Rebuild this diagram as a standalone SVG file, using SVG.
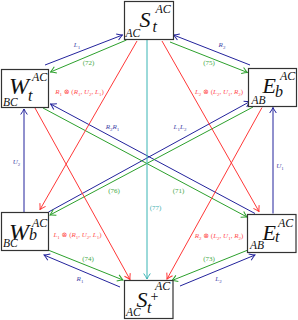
<svg xmlns="http://www.w3.org/2000/svg" width="298" height="320" viewBox="0 0 298 320">
<style>
.box{fill:#fff;stroke:#333;stroke-width:1.2}
.m{font-family:"Liberation Serif",serif;font-style:italic;fill:#111}
.big{font-size:22px}
.sup{font-size:12px}
.pre{font-size:11.5px}
.sub{font-size:16px}
.c{fill:none;stroke-width:1}
.b{stroke:#23239c}
.g{stroke:#2ca02c}
.r{stroke:#ff3838}
.t{stroke:#38b4b4}
.lb{font-family:"Liberation Serif","DejaVu Serif",serif;font-size:7px;text-anchor:middle}
.it{font-style:italic}
.bl{fill:#4545a8}
.gl{fill:#3fa83f}
.rl{fill:#ff4f4f}
.tl{fill:#3fb0b0}
</style>
<defs>
<marker id="ab" viewBox="-7 -5 8 10" markerWidth="8" markerHeight="10" refX="0" refY="0" orient="auto" markerUnits="userSpaceOnUse"><path d="M-5.5,-3.3 Q-2,-0.9 0,0 Q-2,0.9 -5.5,3.3" fill="none" stroke="#23239c" stroke-width="1"/></marker>
<marker id="ag" viewBox="-7 -5 8 10" markerWidth="8" markerHeight="10" refX="0" refY="0" orient="auto" markerUnits="userSpaceOnUse"><path d="M-5.5,-3.3 Q-2,-0.9 0,0 Q-2,0.9 -5.5,3.3" fill="none" stroke="#2ca02c" stroke-width="1"/></marker>
<marker id="ar" viewBox="-7 -5 8 10" markerWidth="8" markerHeight="10" refX="0" refY="0" orient="auto" markerUnits="userSpaceOnUse"><path d="M-5.5,-3.3 Q-2,-0.9 0,0 Q-2,0.9 -5.5,3.3" fill="none" stroke="#ff3838" stroke-width="1"/></marker>
<marker id="at" viewBox="-7 -5 8 10" markerWidth="8" markerHeight="10" refX="0" refY="0" orient="auto" markerUnits="userSpaceOnUse"><path d="M-5.5,-3.3 Q-2,-0.9 0,0 Q-2,0.9 -5.5,3.3" fill="none" stroke="#38b4b4" stroke-width="1"/></marker>
</defs>
<g id="connectors">
<path class="c b" d="M45,65 L122.5,35" marker-end="url(#ab)"/>
<path class="c b" d="M250,65 L173.5,35" marker-end="url(#ab)"/>
<path class="c b" d="M24,212 L24,109" marker-end="url(#ab)"/>
<path class="c b" d="M273,213.5 L273,107.5" marker-end="url(#ab)"/>
<path class="c b" d="M255,213.5 L50.5,104" marker-end="url(#ab)"/>
<path class="c b" d="M48.5,212 L250,101.5" marker-end="url(#ab)"/>
<path class="c b" d="M120,287 L44,255" marker-end="url(#ab)"/>
<path class="c b" d="M180,286 L255,255" marker-end="url(#ab)"/>
<path class="c g" d="M126.5,40 L50.5,72" marker-end="url(#ag)"/>
<path class="c g" d="M170,42 L247.5,72.5" marker-end="url(#ag)"/>
<path class="c g" d="M43,108 L247,217" marker-end="url(#ag)"/>
<path class="c g" d="M253,107 L50,215" marker-end="url(#ag)"/>
<path class="c g" d="M48,250 L123,280" marker-end="url(#ag)"/>
<path class="c g" d="M248,250 L172,280.5" marker-end="url(#ag)"/>
<path class="c r" d="M137,41 L40,209.5" marker-end="url(#ar)"/>
<path class="c r" d="M35,108 L130,279.5" marker-end="url(#ar)"/>
<path class="c r" d="M162,41 L259,211.5" marker-end="url(#ar)"/>
<path class="c r" d="M262,107.5 L167,279" marker-end="url(#ar)"/>
<path class="c t" d="M147,40 L147,279" marker-end="url(#at)"/>
<text class="lb bl" x="77" y="47"><tspan class="it">L</tspan><tspan font-size="5" dy="1.5">1</tspan></text>
<text class="lb bl" x="222" y="47"><tspan class="it">R</tspan><tspan font-size="5" dy="1.5">2</tspan></text>
<text class="lb gl" x="88.5" y="65">(72)</text>
<text class="lb gl" x="209" y="65">(75)</text>
<text class="lb rl" x="79.5" y="94"><tspan class="it">R</tspan><tspan font-size="5" dy="1.5">1</tspan><tspan dy="-1.5"> ⊗ (</tspan><tspan class="it">R</tspan><tspan font-size="5" dy="1.5">1</tspan><tspan dy="-1.5">, </tspan><tspan class="it">U</tspan><tspan font-size="5" dy="1.5">2</tspan><tspan dy="-1.5">, </tspan><tspan class="it">L</tspan><tspan font-size="5" dy="1.5">1</tspan><tspan dy="-1.5">)</tspan></text>
<text class="lb rl" x="219" y="94"><tspan class="it">L</tspan><tspan font-size="5" dy="1.5">2</tspan><tspan dy="-1.5"> ⊗ (</tspan><tspan class="it">L</tspan><tspan font-size="5" dy="1.5">2</tspan><tspan dy="-1.5">, </tspan><tspan class="it">U</tspan><tspan font-size="5" dy="1.5">1</tspan><tspan dy="-1.5">, </tspan><tspan class="it">R</tspan><tspan font-size="5" dy="1.5">2</tspan><tspan dy="-1.5">)</tspan></text>
<text class="lb bl" x="112.5" y="129"><tspan class="it">R</tspan><tspan font-size="5" dy="1.5">2</tspan><tspan class="it" dy="-1.5">R</tspan><tspan font-size="5" dy="1.5">1</tspan></text>
<text class="lb bl" x="180" y="129"><tspan class="it">L</tspan><tspan font-size="5" dy="1.5">1</tspan><tspan class="it" dy="-1.5">L</tspan><tspan font-size="5" dy="1.5">2</tspan></text>
<text class="lb bl" x="16.5" y="164"><tspan class="it">U</tspan><tspan font-size="5" dy="1.5">2</tspan></text>
<text class="lb bl" x="280" y="168"><tspan class="it">U</tspan><tspan font-size="5" dy="1.5">1</tspan></text>
<text class="lb gl" x="114" y="193">(76)</text>
<text class="lb gl" x="178.5" y="193">(71)</text>
<text class="lb tl" x="155.5" y="210">(77)</text>
<text class="lb rl" x="77.5" y="237"><tspan class="it">L</tspan><tspan font-size="5" dy="1.5">1</tspan><tspan dy="-1.5"> ⊗ (</tspan><tspan class="it">R</tspan><tspan font-size="5" dy="1.5">1</tspan><tspan dy="-1.5">, </tspan><tspan class="it">U</tspan><tspan font-size="5" dy="1.5">2</tspan><tspan dy="-1.5">, </tspan><tspan class="it">L</tspan><tspan font-size="5" dy="1.5">1</tspan><tspan dy="-1.5">)</tspan></text>
<text class="lb rl" x="219" y="238"><tspan class="it">R</tspan><tspan font-size="5" dy="1.5">2</tspan><tspan dy="-1.5"> ⊗ (</tspan><tspan class="it">L</tspan><tspan font-size="5" dy="1.5">2</tspan><tspan dy="-1.5">, </tspan><tspan class="it">U</tspan><tspan font-size="5" dy="1.5">1</tspan><tspan dy="-1.5">, </tspan><tspan class="it">R</tspan><tspan font-size="5" dy="1.5">2</tspan><tspan dy="-1.5">)</tspan></text>
<text class="lb gl" x="88" y="261">(74)</text>
<text class="lb gl" x="209" y="261">(73)</text>
<text class="lb bl" x="80" y="281"><tspan class="it">R</tspan><tspan font-size="5" dy="1.5">1</tspan></text>
<text class="lb bl" x="218.5" y="281"><tspan class="it">L</tspan><tspan font-size="5" dy="1.5">2</tspan></text>
</g>
<g id="node-S-top">
<rect class="box" x="124.5" y="1.5" width="49" height="38"/>
<text class="m big" x="139.5" y="27">S</text>
<text class="m sup" x="155.5" y="12.5">AC</text>
<text class="m sub" x="152.5" y="32">t</text>
<text class="m pre" x="125.5" y="36.5">AC</text>
</g>
<g id="node-W-t">
<rect class="box" x="1.5" y="69.5" width="47" height="38"/>
<text class="m" font-size="24" x="9" y="93.5">W</text>
<text class="m sup" x="32" y="80.5">AC</text>
<text class="m sub" x="28" y="101">t</text>
<text class="m pre" x="3" y="105.5">BC</text>
</g>
<g id="node-E-b">
<rect class="box" x="248.5" y="68.5" width="48" height="38"/>
<text class="m big" x="262.5" y="93">E</text>
<text class="m sup" x="280" y="80">AC</text>
<text class="m sub" x="275" y="97">b</text>
<text class="m pre" x="251.5" y="103.5">AB</text>
</g>
<g id="node-W-b">
<rect class="box" x="1.5" y="212.5" width="47" height="38"/>
<text class="m" font-size="24" x="9" y="239.5">W</text>
<text class="m sup" x="32" y="227">AC</text>
<text class="m sub" x="29" y="240">b</text>
<text class="m pre" x="3" y="246.5">BC</text>
</g>
<g id="node-E-t">
<rect class="box" x="247.5" y="214.5" width="48.5" height="38"/>
<text class="m big" x="262.5" y="240">E</text>
<text class="m sup" x="278" y="227">AC</text>
<text class="m sub" x="275" y="242">t</text>
<text class="m pre" x="250" y="248.5">AB</text>
</g>
<g id="node-S-plus">
<rect class="box" x="124.5" y="280.5" width="48.5" height="38"/>
<text class="m big" x="136.5" y="306.5">S</text>
<text font-family="Liberation Serif, serif" font-size="14" fill="#111" x="150.5" y="301">+</text>
<text class="m sup" x="155" y="290">AC</text>
<text class="m sub" x="147" y="313">t</text>
<text class="m pre" x="126" y="316">AC</text>
</g>
</svg>
